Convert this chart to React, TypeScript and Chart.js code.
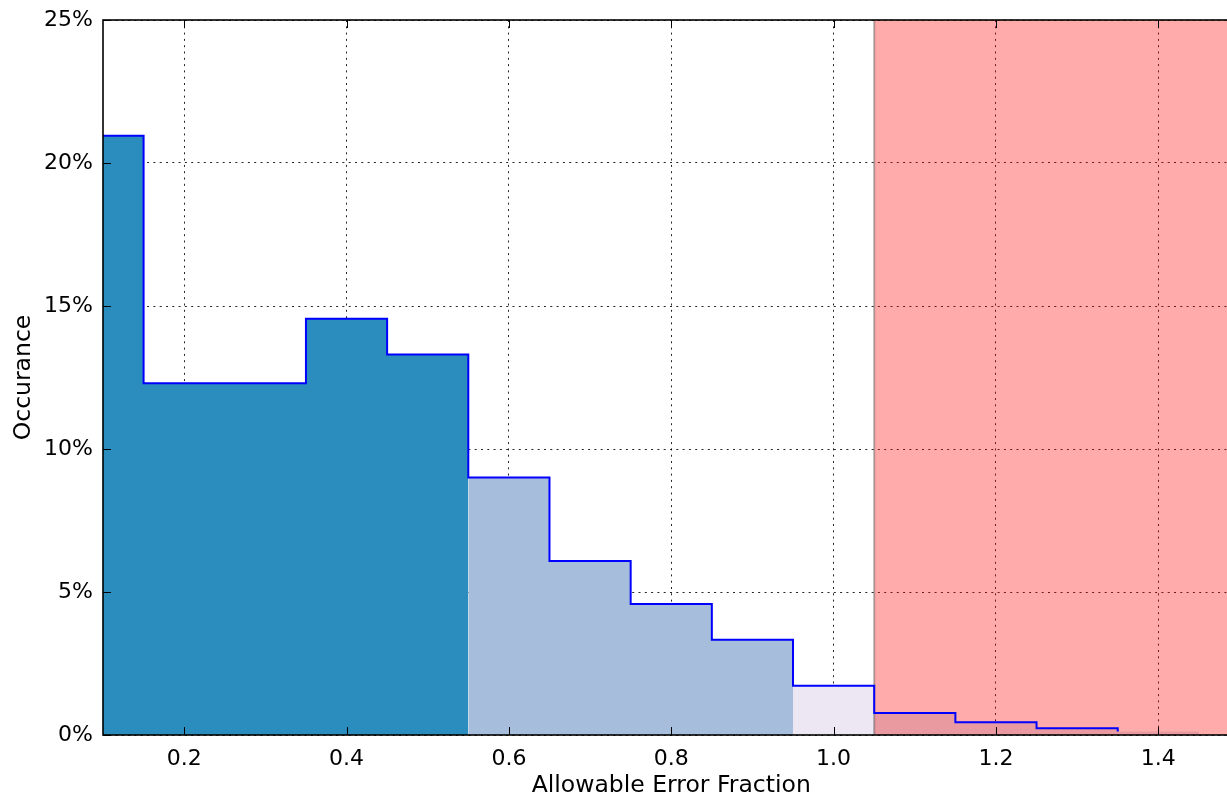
import { useEffect, useRef } from "react";
import { Chart, registerables } from "chart.js";
Chart.register(...registerables);

const binCenters = [0.1, 0.2, 0.3, 0.4, 0.5, 0.6, 0.7, 0.8, 0.9, 1.0, 1.1, 1.2, 1.3, 1.4];
const occurrencePct = [20.95, 12.3, 12.3, 14.55, 13.3, 9.0, 6.08, 4.58, 3.33, 1.72, 0.77, 0.45, 0.24, 0.12];
const xTickValues = [0.2, 0.4, 0.6, 0.8, 1.0, 1.2, 1.4];
const yTickValues = [0, 5, 10, 15, 20, 25];
const groupStarts = [0.1, 0.55, 0.95, 1.05];
const groupEnds = [0.55, 0.95, 1.05, 1.45];
const groupColors = ["rgb(43,140,190)", "rgb(166,189,219)", "rgb(236,231,242)", "rgb(222,230,240)"];

const X_MIN = 0.1;
const X_MAX = 1.5;
const Y_MAX = 25;
const BIN_WIDTH = 0.1;
const FAIL_THRESHOLD = 1.05;

const FONT = "'DejaVu Sans', sans-serif";
const r3 = (v: number) => Math.round(v * 1000) / 1000;
const leftEdge = (c: number) => r3(Math.max(c - BIN_WIDTH / 2, X_MIN));

function groupPoints(start: number, end: number) {
  const pts: { x: number; y: number }[] = [];
  let last = 0;
  binCenters.forEach((c, i) => {
    if (c > start - 1e-9 && c < end) {
      pts.push({ x: leftEdge(c), y: occurrencePct[i] });
      last = occurrencePct[i];
    }
  });
  pts.push({ x: r3(end), y: last });
  return pts;
}

const framePlugin = {
  id: "frame",
  afterDraw(chart: any) {
    const { ctx, chartArea: a, scales } = chart;
    ctx.save();
    ctx.strokeStyle = "#000";
    ctx.lineWidth = 1;
    ctx.beginPath();
    xTickValues.forEach((v) => {
      const x = Math.round(scales.x.getPixelForValue(v)) + 0.5;
      ctx.moveTo(x, a.bottom);
      ctx.lineTo(x, a.bottom - 8);
      ctx.moveTo(x, a.top);
      ctx.lineTo(x, a.top + 8);
    });
    yTickValues.forEach((v) => {
      const y = Math.round(scales.y.getPixelForValue(v)) + 0.5;
      ctx.moveTo(a.left, y);
      ctx.lineTo(a.left + 8, y);
      ctx.moveTo(a.right, y);
      ctx.lineTo(a.right - 8, y);
    });
    ctx.stroke();
    ctx.lineWidth = 1.6;
    ctx.strokeRect(a.left, a.top, a.right - a.left, a.bottom - a.top);
    ctx.restore();
  },
};

export default function App() {
  const ref = useRef<HTMLCanvasElement>(null);
  useEffect(() => {
    if (!ref.current) return;
    const fills = groupStarts.map((s, gi) => ({
      label: "fill" + gi,
      data: groupPoints(s, groupEnds[gi]),
      stepped: "before" as const,
      borderWidth: 0,
      borderColor: "transparent",
      backgroundColor: groupColors[gi],
      fill: "origin",
      pointRadius: 0,
      order: 10 + gi,
    }));
    const chart = new Chart(ref.current, {
      type: "line",
      data: {
        datasets: [
          {
            label: "Occurance",
            data: binCenters.map((c, i) => ({ x: leftEdge(c), y: occurrencePct[i] })),
            stepped: "before",
            borderColor: "rgb(0,0,255)",
            borderWidth: 2,
            fill: false,
            pointRadius: 0,
            order: 0,
          },
          {
            label: "edge",
            data: [
              { x: FAIL_THRESHOLD, y: 0 },
              { x: FAIL_THRESHOLD, y: Y_MAX },
            ],
            borderColor: "rgba(0,0,0,0.3)",
            borderWidth: 2,
            fill: false,
            pointRadius: 0,
            order: 1,
          },
          {
            label: "fail",
            data: [
              { x: FAIL_THRESHOLD, y: Y_MAX },
              { x: X_MAX, y: Y_MAX },
            ],
            borderWidth: 0,
            borderColor: "transparent",
            backgroundColor: "rgba(255,0,0,0.33)",
            fill: "origin",
            pointRadius: 0,
            order: 2,
          },
          ...fills,
        ] as any,
      },
      options: {
        animation: false,
        responsive: false,
        events: [],
        layout: { padding: { top: 20, right: 20.5, left: 0, bottom: 0 } },
        plugins: { legend: { display: false }, tooltip: { enabled: false } },
        scales: {
          x: {
            type: "linear",
            min: X_MIN,
            max: X_MAX,
            z: 1,
            afterBuildTicks: (s: any) => {
              s.ticks = xTickValues.map((v) => ({ value: v }));
            },
            afterFit: (s: any) => {
              s.height = 62;
              s.paddingLeft = 0;
              s.paddingRight = 0;
            },
            ticks: {
              autoSkip: false,
              maxRotation: 0,
              padding: 11,
              color: "#000",
              font: { family: FONT, size: 22 },
              callback: (v: any) => Number(v).toFixed(1),
            },
            grid: { color: "rgba(0,0,0,0.85)", lineWidth: 1, drawTicks: false },
            border: { display: false, dash: [2, 4.3] },
            title: {
              display: true,
              text: "Allowable Error Fraction",
              color: "#000",
              font: { family: FONT, size: 23.5, lineHeight: 1 },
              padding: { top: 0, bottom: -1 },
            },
          },
          y: {
            min: 0,
            max: Y_MAX,
            z: 1,
            afterBuildTicks: (s: any) => {
              s.ticks = yTickValues.map((v) => ({ value: v }));
            },
            afterFit: (s: any) => {
              s.width = 103;
              s.paddingTop = 0;
              s.paddingBottom = 0;
            },
            ticks: {
              padding: 10,
              color: "#000",
              font: { family: FONT, size: 22 },
              callback: (v: any) => v + "%",
            },
            grid: { color: "rgba(0,0,0,0.85)", lineWidth: 1, drawTicks: false },
            border: { display: false, dash: [2, 4.3] },
            title: {
              display: true,
              text: "Occurance",
              color: "#000",
              font: { family: FONT, size: 23.5, lineHeight: 1 },
              padding: { top: 12, bottom: 0 },
            },
          },
        },
      },
      plugins: [framePlugin],
    });
    return () => chart.destroy();
  }, []);
  return (
    <div style={{ position: "absolute", left: 0, top: 0, width: 1227, height: 797, overflow: "hidden", background: "#fff" }}>
      <canvas ref={ref} width={1260} height={797} style={{ display: "block" }} />
    </div>
  );
}
